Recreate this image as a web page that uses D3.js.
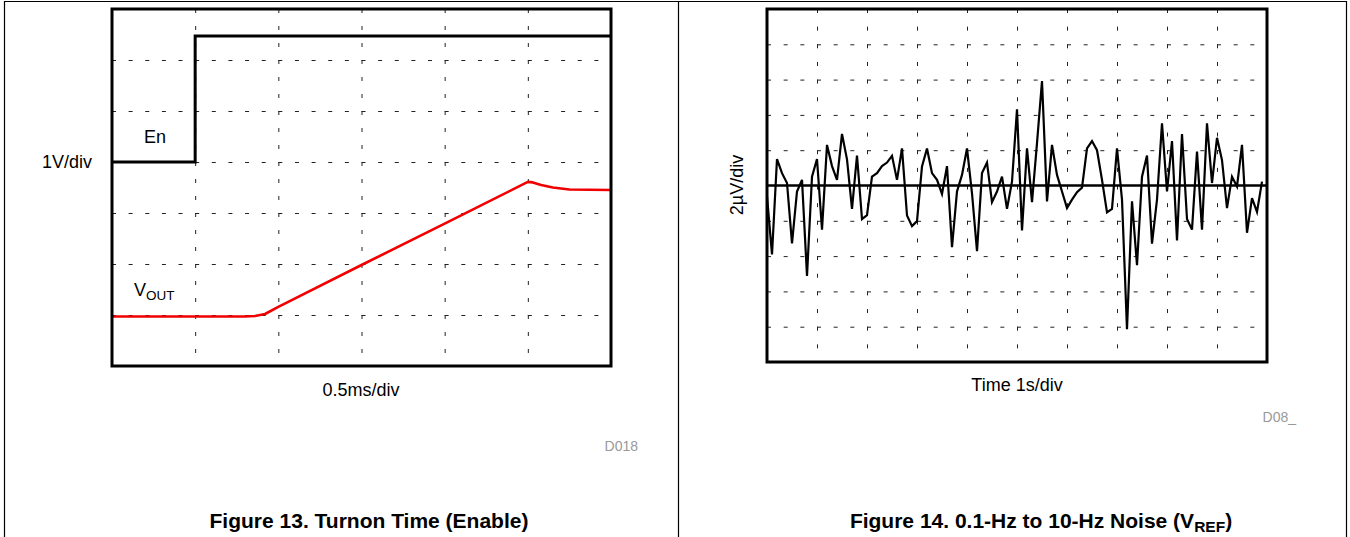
<!DOCTYPE html>
<html>
<head>
<meta charset="utf-8">
<script src="https://cdn.jsdelivr.net/npm/d3@7/dist/d3.min.js"></script>
<style>
  body{margin:0;background:#fff;}
  svg text{font-family:"Liberation Sans", Arial, Helvetica, sans-serif;fill:#000;}
</style>
</head>
<body>
<div id="figs"></div>
<script>
// Figure 13: turn on time, x in ms (0.5ms/div), y in V (1V/div)
const enTime  = [0, 0.5, 0.5, 3];
const enLevel = [4, 4, 6.47, 6.47];

const voutTime  = [0, 0.8, 0.86, 0.92, 1.0, 1.5, 2.0, 2.5, 2.53, 2.58, 2.65, 2.75, 3.0];
const voutLevel = [0.97, 0.97, 0.98, 1.02, 1.16, 1.98, 2.79, 3.61, 3.6, 3.55, 3.5, 3.46, 3.45];

const turnonTicksX = [0.5, 1, 1.5, 2, 2.5];
const turnonTicksY = [1, 2, 3, 4, 5, 6];

// Figure 14: 0.1Hz to 10Hz noise, 1s/div, 2uV/div, one sample every 0.1 s
const noiseStep = 0.1;
const noiseUv = [
  -0.62, -3.9, 1.5, 0.7, 0.14, -3.28, -0.34, 0.32, -5.12, 0.5,
  1.5, -2.5, 2.3, 1.1, 0.32, 2.92, 1.48, -1.32, 1.7, -1.9,
  -1.68, 0.5, 0.7, 1.1, 1.3, 1.68, 0.32, 2.1, -1.7, -2.3,
  -2.02, 1.08, 2.1, 0.7, 0.32, -0.48, 1.1, -3.5, -0.34, 0.6,
  2.1, -0.44, -3.72, 0.7, 1.3, -0.94, -0.34, 0.5, -1.32, 0.22,
  4.32, -2.54, 2.1, -0.94, 2.4, 5.92, -0.9, 2.3, 0.6, -0.34,
  -1.28, -0.8, -0.38, -0.12, 2.1, 2.52, 2.0, 0.32, -1.52, -1.32,
  2.1, -0.8, -8.14, -0.9, -4.52, 0.5, 1.7, -3.3, -0.8, 3.52,
  -0.34, 2.52, -3.12, 2.92, -1.9, -2.5, 1.92, -2.5, 3.52, 0.14,
  2.7, 1.44, -1.28, 0.5, -0.06, 2.3, -2.68, -0.72, -1.5, 0.22
];

const noiseTicksX = [1, 2, 3, 4, 5, 6, 7, 8, 9];
const noiseTicksY = [-8, -6, -4, -2, 2, 4, 6, 8];


const W = 1350, H = 537;

const svg = d3.select('#figs').append('svg')
              .attr('width', W)
              .attr('height', H);

//page frame
svg.append('path')
   .attr('d', 'M4.5,537 V1.5 H1346.5 V537 M678.5,1.5 V537')
   .attr('fill', 'none')
   .attr('stroke', '#000')
   .attr('stroke-width', 1.2);


// builds the scope style frame: scales, dashed grid, returns plot group
function scopeFrame(opts){
  const plot = svg.append('g')
                  .attr('transform', 'translate(' + opts.left + ',' + opts.top + ')');

  const x = d3.scaleLinear().domain(opts.xDomain).range([0, opts.width]);
  const y = d3.scaleLinear().domain(opts.yDomain).range([opts.height, 0]);

  const divX = opts.width / (opts.xDomain[1] - opts.xDomain[0]) * opts.xStep;
  const divY = opts.height / (opts.yDomain[1] - opts.yDomain[0]) * opts.yStep;

  // vertical dashed lines
  plot.append('g')
      .attr('class', 'grid-x')
      .call(d3.axisTop(x).tickValues(opts.ticksX).tickSize(-opts.height).tickFormat(''))
      .call(g => g.select('.domain').remove())
      .selectAll('line')
      .attr('stroke', '#222')
      .attr('stroke-width', 1)
      .attr('stroke-dasharray', '4,' + (divY / opts.dashY - 4));

  // horizontal dashed lines
  plot.append('g')
      .attr('class', 'grid-y')
      .call(d3.axisLeft(y).tickValues(opts.ticksY).tickSize(-opts.width).tickFormat(''))
      .call(g => g.select('.domain').remove())
      .selectAll('line')
      .attr('stroke', '#222')
      .attr('stroke-width', 1)
      .attr('stroke-dasharray', '4,' + (divX / opts.dashX - 4));

  svg.selectAll('.tick text').remove();

  return {plot, x, y};
}

function drawBox(frame, w, h){
  frame.plot.append('rect')
       .attr('x', 0).attr('y', 0)
       .attr('width', w).attr('height', h)
       .attr('fill', 'none')
       .attr('stroke', '#000')
       .attr('stroke-width', 3);
}


// ---- Figure 13 ----
const left = scopeFrame({
  left: 112, top: 9, width: 499, height: 357,
  xDomain: [0, 3], yDomain: [0, 7],
  xStep: 0.5, yStep: 1,
  ticksX: turnonTicksX, ticksY: turnonTicksY,
  dashX: 5, dashY: 3
});

const enLine = d3.line()
                 .x((d, i) => left.x(enTime[i]))
                 .y(d => left.y(d));

left.plot.append('path')
    .attr('d', enLine(enLevel))
    .attr('fill', 'none')
    .attr('stroke', '#000')
    .attr('stroke-width', 3);

const voutLine = d3.line()
                   .x((d, i) => left.x(voutTime[i]))
                   .y(d => left.y(d));

left.plot.append('path')
    .attr('d', voutLine(voutLevel))
    .attr('fill', 'none')
    .attr('stroke', '#f00000')
    .attr('stroke-width', 2.6)
    .attr('stroke-linejoin', 'round');

drawBox(left, 499, 357);

svg.append('text').attr('x', 155).attr('y', 143)
   .attr('text-anchor', 'middle').attr('font-size', 18).text('En');

const vout = svg.append('text').attr('x', 134).attr('y', 296).attr('font-size', 18);
vout.append('tspan').text('V');
vout.append('tspan').attr('font-size', 13.5).attr('dy', 4).text('OUT');

svg.append('text').attr('x', 67).attr('y', 168)
   .attr('text-anchor', 'middle').attr('font-size', 18).text('1V/div');

svg.append('text').attr('x', 361).attr('y', 396)
   .attr('text-anchor', 'middle').attr('font-size', 18).text('0.5ms/div');

svg.append('text').attr('x', 638).attr('y', 451)
   .attr('text-anchor', 'end').attr('font-size', 14)
   .style('fill', '#999').text('D018');

svg.append('text').attr('x', 369).attr('y', 528)
   .attr('text-anchor', 'middle').attr('font-size', 21)
   .attr('font-weight', 'bold').text('Figure 13. Turnon Time (Enable)');


// ---- Figure 14 ----
const right = scopeFrame({
  left: 767, top: 9, width: 500, height: 353,
  xDomain: [0, 10], yDomain: [-10, 10],
  xStep: 1, yStep: 2,
  ticksX: noiseTicksX, ticksY: noiseTicksY,
  dashX: 3, dashY: 2
});

// zero reference line
right.plot.append('line')
     .attr('x1', 0).attr('x2', 500)
     .attr('y1', right.y(0)).attr('y2', right.y(0))
     .attr('stroke', '#000')
     .attr('stroke-width', 2.6);

const noiseLine = d3.line()
                    .x((d, i) => right.x(i * noiseStep))
                    .y(d => right.y(d));

right.plot.append('path')
     .attr('d', noiseLine(noiseUv))
     .attr('fill', 'none')
     .attr('stroke', '#000')
     .attr('stroke-width', 2.2)
     .attr('stroke-linejoin', 'miter');

drawBox(right, 500, 353);

svg.append('text')
   .attr('transform', 'translate(743,185) rotate(-90)')
   .attr('text-anchor', 'middle').attr('font-size', 18).text('2µV/div');

svg.append('text').attr('x', 1017).attr('y', 391)
   .attr('text-anchor', 'middle').attr('font-size', 18).text('Time 1s/div');

svg.append('text').attr('x', 1296).attr('y', 422)
   .attr('text-anchor', 'end').attr('font-size', 14)
   .style('fill', '#999').text('D08_');

const t14 = svg.append('text').attr('x', 1041).attr('y', 528)
               .attr('text-anchor', 'middle').attr('font-size', 21)
               .attr('font-weight', 'bold');
t14.append('tspan').text('Figure 14. 0.1-Hz to 10-Hz Noise (V');
t14.append('tspan').attr('font-size', 15.5).attr('dy', 4).text('REF');
t14.append('tspan').attr('dy', -4).text(')');

</script>
</body>
</html>
